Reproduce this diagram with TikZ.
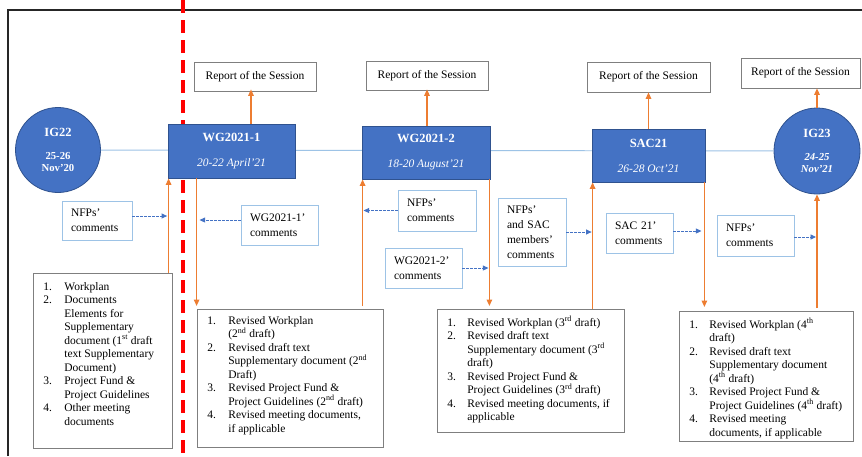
\documentclass[tikz,border=0pt]{standalone}
\usepackage{fontspec}
\setmainfont{Liberation Serif}
\usetikzlibrary{arrows.meta,calc}
\definecolor{bluefill}{HTML}{4472C4}
\definecolor{blueedge}{HTML}{2F528F}
\definecolor{lightblue}{HTML}{9DC3E6}
\definecolor{orangeline}{HTML}{ED7D31}
\definecolor{grayedge}{HTML}{7F7F7F}
\definecolor{redline}{HTML}{FF0000}
\definecolor{framecol}{HTML}{262626}
\newenvironment{steplist}[1]{\raggedright\begin{list}{\arabic{enumi}.}{\usecounter{enumi}%
  \setlength{\leftmargin}{#1}\setlength{\labelsep}{0pt}%
  \setlength{\labelwidth}{\dimexpr#1-10pt\relax}%
  \setlength{\itemsep}{0pt}\setlength{\parsep}{0pt}\setlength{\topsep}{0pt}%
  \setlength{\partopsep}{0pt}\setlength{\rightmargin}{0pt}\setlength{\itemindent}{0pt}%
  \setlength{\listparindent}{0pt}\renewcommand{\makelabel}[1]{##1\hfil}}}{\end{list}}
\newcommand{\sups}[1]{\textsuperscript{#1}}
\begin{document}
\begin{tikzpicture}[x=1pt,y=-1pt,
  every node/.style={inner sep=0pt},
  bluebox/.style={draw=blueedge, fill=bluefill, line width=0.8pt, text=white, align=center, font=\fontsize{11.5}{14}\selectfont},
  bluecirc/.style={circle, draw=blueedge, fill=bluefill, line width=0.8pt, text=white, align=center, minimum size=85pt, font=\fontsize{10.7}{12}\selectfont\bfseries},
  reportbox/.style={draw=grayedge, line width=0.7pt, font=\fontsize{11.5}{13.5}\selectfont},
  commentbox/.style={draw=lightblue, line width=0.9pt, align=left, inner xsep=9pt, font=\fontsize{11.5}{15}\selectfont},
  listbox/.style={draw=grayedge, line width=0.7pt, anchor=north west, font=\fontsize{11.5}{13.5}\selectfont},
  oarrow/.style={draw=orangeline, line width=1.3pt, -{Triangle[length=6.5pt,width=5.5pt]}},
  barrow/.style={draw=bluefill, line width=0.9pt, dash pattern=on 2.5pt off 1.5pt, -{Triangle[length=5.5pt,width=5pt]}},
  hline/.style={draw=lightblue, line width=0.9pt},
  framestyle/.style={draw=framecol, line width=2pt},
  redstyle/.style={draw=redline, line width=4pt, dash pattern=on 13pt off 7pt}
]
\useasboundingbox (0,0) rectangle (862,456);
\fill[white] (0,0) rectangle (862,456);
% frame
\draw[framestyle] (8,456) -- (8,10) -- (862,10);
% red dashed separator
\draw[redstyle] (183,0) -- (183,456);

% main events
\node[bluecirc] (ig22) at (58,150) {{\fontsize{12.5}{14}\selectfont IG22}\\[11pt]25-26\\Nov’20};
\node[bluecirc, minimum size=86pt] (ig23) at (817,151) {{\fontsize{12.5}{14}\selectfont IG23}\\[11pt]\itshape 24-25\\\itshape Nov’21};
\draw[hline] (ig22) -- (ig23);
\node[bluebox, minimum width=127pt, minimum height=54pt] (wg1) at (231.5,151) {{\fontsize{12.5}{14}\selectfont\bfseries WG2021-1}\\[11pt]\textit{20-22 April’21}};
\node[bluebox, minimum width=128pt, minimum height=53pt] (wg2) at (426,152.5) {{\fontsize{12.5}{14}\selectfont\bfseries WG2021-2}\\[11pt]\textit{18-20 August’21}};
\node[bluebox, minimum width=113pt, minimum height=53pt] (sac) at (648.5,155.5) {{\fontsize{12.5}{14}\selectfont\bfseries SAC21}\\[11pt]\textit{26-28 Oct’21}};

% reports
\node[reportbox, minimum width=122pt, minimum height=29pt] (r1) at (255,76.5) {Report of the Session};
\node[reportbox, minimum width=122pt, minimum height=29pt] (r2) at (427,75.5) {Report of the Session};
\node[reportbox, minimum width=123pt, minimum height=30pt] (r3) at (648.5,77) {Report of the Session};
\node[reportbox, minimum width=119pt, minimum height=30pt] (r4) at (800.5,73) {Report of the Session};

% comments
\node[commentbox, text width=52pt, minimum height=39pt] (c1) at (97,220.5) {NFPs’\\comments};
\node[commentbox, text width=59pt, minimum height=40pt] (c2) at (279.5,225) {WG2021-1’\\comments};
\node[commentbox, text width=60pt, minimum height=41pt] (c3) at (437,210.5) {NFPs’\\comments};
\node[commentbox, text width=59pt, minimum height=40pt] (c4) at (423.5,268) {WG2021-2’\\comments};
\node[commentbox, text width=50pt, minimum height=68pt] (c5) at (532,232) {NFPs’\\and SAC\\members’\\comments};
\node[commentbox, text width=49pt, minimum height=40pt] (c6) at (639.5,233) {SAC 21’\\comments};
\node[commentbox, text width=59pt, minimum height=41pt] (c7) at (755.5,235.5) {NFPs’\\comments};

% document lists
\node[listbox] (list0) at (33,273) {\parbox[c][175pt][t]{139pt}{\vspace*{9pt}\begin{steplist}{31pt}
\item Workplan
\item Documents\\Elements for\\Supplementary\\document (1\sups{st} draft\\text Supplementary\\Document)
\item Project Fund \&\\Project Guidelines
\item Other meeting\\documents
\end{steplist}}};
\node[listbox] (list1) at (197,309) {\parbox[c][138pt][t]{186pt}{\vspace*{7pt}\begin{steplist}{31pt}
\item Revised Workplan\\(2\sups{nd} draft)
\item Revised draft text\\Supplementary document (2\sups{nd}\\Draft)
\item Revised Project Fund \&\\Project Guidelines (2\sups{nd} draft)
\item Revised meeting documents,\\if applicable
\end{steplist}}};
\node[listbox] (list2) at (437,309) {\parbox[c][123pt][t]{187pt}{\vspace*{7pt}\begin{steplist}{30pt}
\item Revised Workplan (3\sups{rd} draft)
\item Revised draft text\\Supplementary document (3\sups{rd}\\draft)
\item Revised Project Fund \&\\Project Guidelines (3\sups{rd} draft)
\item Revised meeting documents, if\\applicable
\end{steplist}}};
\node[listbox] (list3) at (679,311) {\parbox[c][130pt][t]{174pt}{\vspace*{7pt}\begin{steplist}{30pt}
\item Revised Workplan (4\sups{th}\\draft)
\item Revised draft text\\Supplementary document\\(4\sups{th} draft)
\item Revised Project Fund \&\\Project Guidelines (4\sups{th} draft)
\item Revised meeting\\documents, if applicable
\end{steplist}}};

% vertical process connectors
\coordinate (a1) at ($(wg1.south west)+(1,0)$);
\coordinate (a2) at ($(wg1.south west)+(29,0)$);
\coordinate (a3) at ($(wg2.south west)+(1,0)$);
\coordinate (a4) at ($(wg2.south east)+(-1,0)$);
\coordinate (a5) at ($(sac.south west)+(1,0)$);
\coordinate (a6) at ($(sac.south east)+(-1,0)$);
\coordinate (a7) at (ig23.south);
\draw[oarrow] (a1 |- list0.north) -- (a1);
\draw[oarrow, shorten >=3pt] (a2) -- (a2 |- list1.north);
\draw[oarrow, shorten <=3pt] (a3 |- list1.north) -- (a3);
\draw[oarrow, shorten >=3pt] (a4) -- (a4 |- list2.north);
\draw[oarrow] (a5 |- list2.north) -- (a5);
\draw[oarrow, shorten >=4pt] (a6) -- (a6 |- list3.north);
\draw[oarrow, shorten <=3pt] (a7 |- list3.north) -- (a7);

% report connectors
\draw[oarrow, shorten >=-2pt] ($(r1.south |- wg1.north)+(-4,0)$) -- ($(r1.south)+(-4,0)$);
\draw[oarrow, shorten >=-1pt] (r2.south |- wg2.north) -- (r2.south);
\draw[oarrow] (r3.south |- sac.north) -- (r3.south);
\draw[oarrow] (ig23.north) -- (ig23.north |- r4.south);

% comment connectors
\draw[barrow, shorten >=1.5pt] ($(c1.east)+(0,-4.5)$) -- ($(c1.east -| a1)+(0,-4.5)$);
\draw[barrow, shorten >=3pt] ($(c2.west)+(0,-5)$) -- ($(c2.west -| a2)+(0,-5)$);
\draw[barrow, shorten >=1pt] (c3.west) -- (c3.west -| a3);
\draw[barrow, shorten >=1pt] (c4.east) -- (c4.east -| a4);
\draw[barrow, shorten >=1pt] (c5.east) -- (c5.east -| a5);
\draw[barrow, shorten >=3pt] ($(c6.east)+(0,-2)$) -- ($(c6.east -| a6)+(0,-2)$);
\draw[barrow, shorten >=1pt] ($(c7.east)+(0,1.5)$) -- ($(c7.east -| a7)+(0,1.5)$);
\end{tikzpicture}
\end{document}
